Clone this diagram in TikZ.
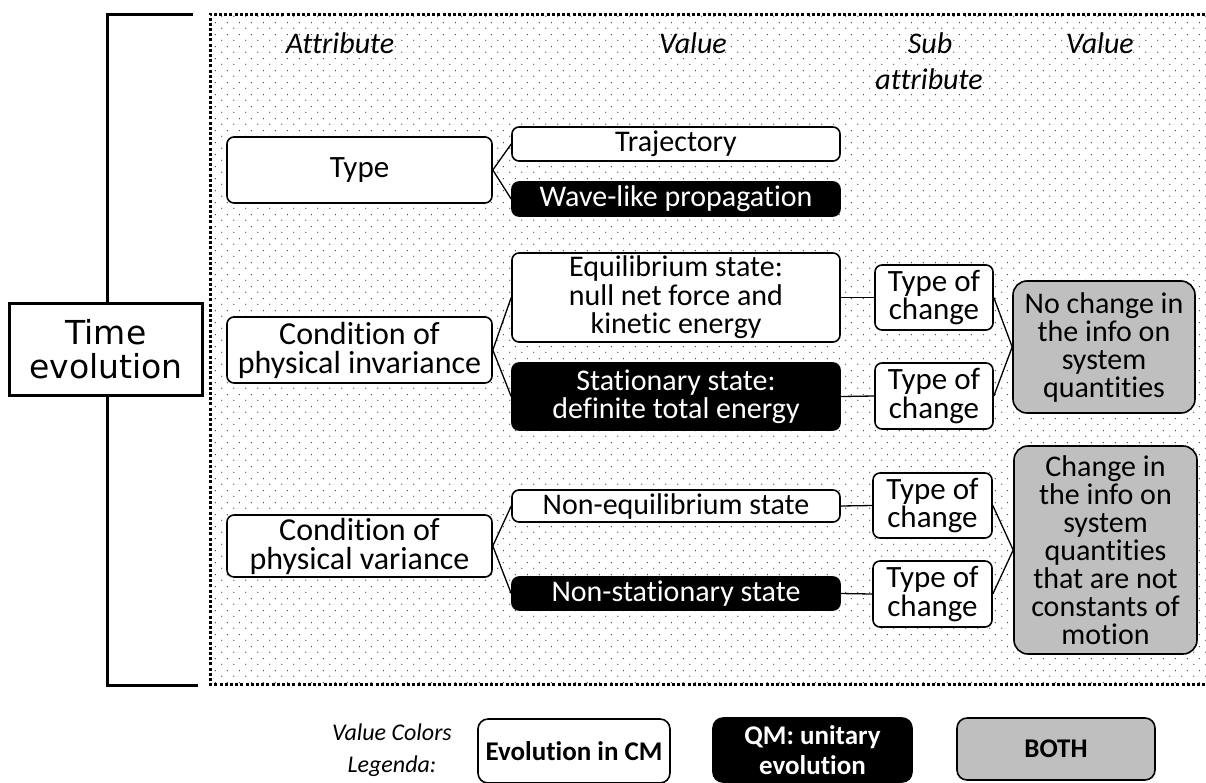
\documentclass[tikz,border=0pt]{standalone}
\usepackage{fontspec}
\usetikzlibrary{patterns}
\setmainfont{Carlito}[Ligatures=CommonOff]
\newfontfamily\dejavu{DejaVu Sans}
\definecolor{boxgray}{RGB}{191,191,191}
\definecolor{dotcol}{RGB}{70,70,70}
\pgfdeclarepatternformonly{sparsedots}{\pgfqpoint{0pt}{0pt}}{\pgfqpoint{11.5pt}{11.5pt}}{\pgfqpoint{11.5pt}{11.5pt}}{%
  \pgfpathcircle{\pgfqpoint{2.9pt}{2.9pt}}{0.7pt}%
  \pgfpathcircle{\pgfqpoint{8.65pt}{8.65pt}}{0.7pt}%
  \pgfusepath{fill}}
\begin{document}
\begin{tikzpicture}[x=1pt,y=-1pt,
  box/.style={draw=black, line width=1.6pt, rounded corners=7pt, align=center, inner sep=0pt, fill=white, font=\fontsize{30}{28.5}\selectfont},
  wbox/.style={box},
  bbox/.style={box, fill=black, text=white},
  gbox/.style={box, fill=boxgray, rounded corners=14pt},
  attrbox/.style={box, font=\fontsize{32}{29}\selectfont},
  tocbox/.style={box, font=\fontsize{31}{28.5}\selectfont, minimum width=118pt, minimum height=65pt},
  conn/.style={line width=1.3pt},
  head/.style={font=\fontsize{30}{36}\selectfont\itshape, anchor=base},
  legtxt/.style={font=\fontsize{24}{31}\selectfont\itshape, anchor=base},
  legbox/.style={box, font=\fontsize{27}{31}\selectfont\bfseries, rounded corners=10pt}
]
% canvas
\fill[white] (0,0) rectangle (1206,782);
\useasboundingbox (0,0) rectangle (1206,782);

% dotted frame
\fill[pattern=sparsedots, pattern color=dotcol] (210,14) rectangle (1210,684);
\draw[line width=3pt, dash pattern=on 3pt off 2.2pt] (1210,14) -- (210,14) -- (210,684) -- (1210,684);

% bracket
\coordinate (bt) at (193,14);
\coordinate (btl) at (107,14);
\coordinate (bbl) at (107,685);
\coordinate (bb) at (198,685);
\draw[line width=3pt] (bt) -- (btl) -- (bbl) -- (bb);
\node[draw=black, line width=3.5pt, fill=white, minimum width=193pt, minimum height=92pt, inner sep=0pt, align=center,
  font=\dejavu\fontsize{33}{34}\selectfont] (time) at (106,349.5) {Time\\evolution};

% headers
\node[head] (h1) at (340,53) {Attribute};
\node[head] (h2) at (693,53) {Value};
\node[head] (h3) at (930,53) {Sub};
\node[head] (h3b) at (929,89) {attribute};
\node[head] (h4) at (1100,53) {Value};

% attribute boxes
\node[attrbox, font=\fontsize{31}{27}\selectfont, minimum width=265pt, minimum height=66pt] (type) at (359.5,170) {Type};
\node[attrbox, minimum width=265pt, minimum height=66pt] (cinv) at (359.5,350) {Condition of\\physical invariance};
\node[attrbox, minimum width=265pt, minimum height=62pt] (cvar) at (359.5,546) {Condition of\\physical variance};

% values
\node[wbox, minimum width=328pt, minimum height=34pt] (traj) at (676,144) {Trajectory};
\node[bbox, minimum width=328pt, minimum height=34pt] (wave) at (676,199) {Wave-like propagation};
\node[wbox, minimum width=328pt, minimum height=89pt] (equi) at (676,297.5) {Equilibrium state:\\null net force and\\kinetic energy};
\node[bbox, minimum width=328pt, minimum height=67pt] (stat) at (676,396.5) {Stationary state:\\definite total energy};
\node[wbox, minimum width=328pt, minimum height=32pt] (noneq) at (676,506) {Non-equilibrium state};
\node[bbox, minimum width=328pt, minimum height=33pt] (nonst) at (676,593.5) {Non-stationary state};

% sub attributes
\node[tocbox] (t1) at (934,297.5) {Type of\\change};
\node[tocbox, minimum height=66pt] (t2) at (934,396) {Type of\\change};
\node[tocbox, minimum width=119pt] (t3) at (932.5,505.5) {Type of\\change};
\node[tocbox, minimum width=119pt, minimum height=66pt] (t4) at (932.5,594) {Type of\\change};

% sub values
\node[gbox, minimum width=182pt, minimum height=132pt, font=\fontsize{30}{28}\selectfont] (noch) at (1104,347) {No change in\\the info on\\system\\quantities};
\node[gbox, minimum width=183pt, minimum height=208pt, font=\fontsize{30}{28}\selectfont] (ch) at (1105.5,550) {Change in\\the info on\\system\\quantities\\that are not\\constants of\\motion};

% connectors
\draw[conn] (type.east) -- (traj.west);
\draw[conn] (type.east) -- (wave.west);
\draw[conn] (cinv.east) -- (equi.west);
\draw[conn] (cinv.east) -- (stat.west);
\draw[conn] (cvar.east) -- (noneq.west);
\draw[conn] (cvar.east) -- (nonst.west);
\draw[conn] (equi.east) -- (t1.west);
\draw[conn] (stat.east) -- (t2.west);
\draw[conn] (noneq.east) -- (t3.west);
\draw[conn] (nonst.east) -- (t4.west);
\draw[conn] (t1.east) -- (noch.west);
\draw[conn] (t2.east) -- (noch.west);
\draw[conn] (t3.east) -- (ch.west);
\draw[conn] (t4.east) -- (ch.west);

% legend
\node[legtxt] (l1) at (392,740) {Value Colors};
\node[legtxt] (l2) at (392,772) {Legenda:};
\node[legbox, minimum width=192pt, minimum height=64pt] (lcm) at (574,751) {Evolution in CM};
\node[legbox, fill=black, text=white, minimum width=199pt, minimum height=64pt, font=\fontsize{27}{30}\selectfont\bfseries] (lqm) at (812.5,750) {QM: unitary\\evolution};
\node[legbox, fill=boxgray, minimum width=198pt, minimum height=62pt] (lboth) at (1056,749) {BOTH};
\end{tikzpicture}
\end{document}
